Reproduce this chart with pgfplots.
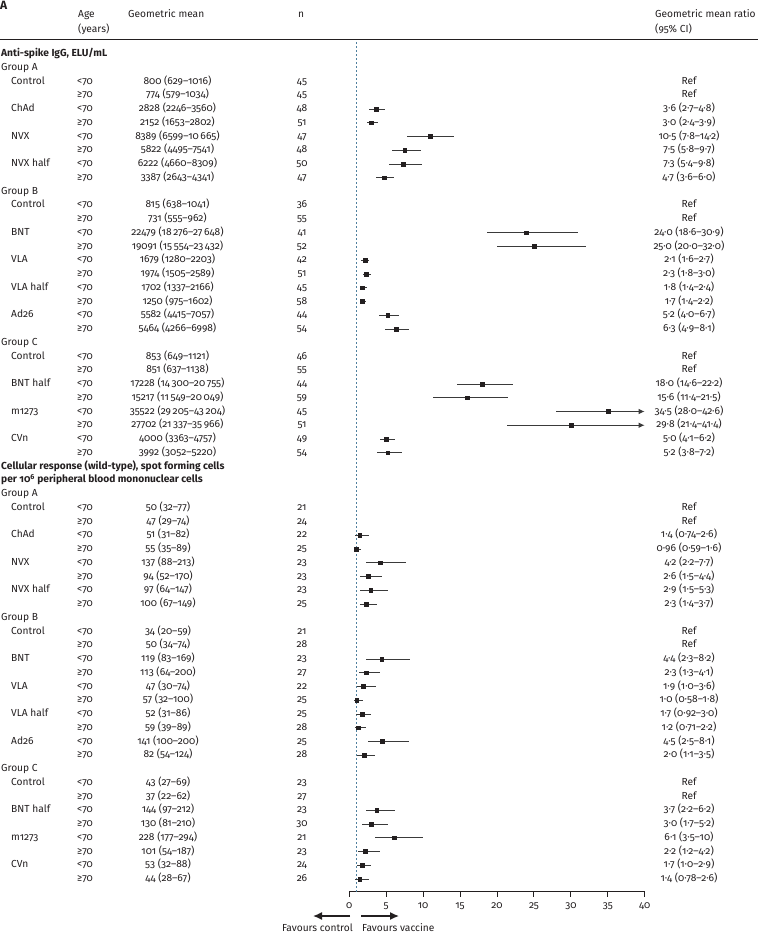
\documentclass[border=0pt]{standalone}
\usepackage{fontspec}
\setmainfont{Fira Sans}[Numbers=OldStyle]
\usepackage{pgfplots}
\usepackage{pgfplotstable}
\pgfplotsset{compat=1.18}
\usetikzlibrary{arrows.meta}

\definecolor{ink}{HTML}{231F20}
\definecolor{cigray}{HTML}{3A3A3A}
\definecolor{refline}{HTML}{4F7F9E}

% geometric mean ratio (x), row number (r), 95% CI (lo, hi)
\pgfplotstableread{
x    r  lo   hi
3.6  5  2.7  4.8
3.0  6  2.4  3.9
11.0 7  7.8  14.2
7.5  8  5.8  9.7
7.3  9  5.4  9.8
4.7  10 3.6  6.0
24.0 14 18.6 30.9
25.0 15 20.0 32.0
2.1  16 1.6  2.7
2.3  17 1.8  3.0
1.8  18 1.4  2.4
1.7  19 1.4  2.2
5.2  20 4.0  6.7
6.3  21 4.9  8.1
18.0 25 14.6 22.2
16.0 26 11.4 21.5
5.0  29 4.1  6.2
5.2  30 3.8  7.2
}\antispike

\pgfplotstableread{
x    r  lo   hi
1.4  36 0.74 2.6
0.96 37 0.59 1.6
4.2  38 2.2  7.7
2.6  39 1.5  4.4
2.9  40 1.5  5.3
2.3  41 1.4  3.7
4.4  45 2.3  8.2
2.3  46 1.3  4.1
1.9  47 1.0  3.6
1.0  48 0.58 1.8
1.7  49 0.92 3.0
1.2  50 0.71 2.2
4.5  51 2.5  8.1
2.0  52 1.1  3.5
3.7  56 2.2  6.2
3.0  57 1.7  5.2
6.1  58 3.5  10
2.2  59 1.2  4.2
1.7  60 1.0  2.9
1.4  61 0.78 2.6
}\cellular

\newcommand\ry[1]{40.25+13.75*#1}
% row number, vaccine, age, geometric mean, n, ratio
\newcommand\trow[6]{%
  \node[anchor=mid west] at (11,{\ry{#1}}) {#2};
  \node[anchor=mid west] at (77,{\ry{#1}}) {#3};
  \node[anchor=mid] at (\meanx,{\ry{#1}}) {#4};
  \node[anchor=mid] at (302,{\ry{#1}}) {#5};
  \node[anchor=mid] at (689,{\ry{#1}}) {#6};}
\newcommand\grow[2]{\node[anchor=mid west] at (1,{\ry{#1}}) {#2};}
\newcommand\brow[2]{\node[anchor=mid west] at (1,{\ry{#1}}) {\bfseries #2};}

\begin{document}
\fontsize{10.2}{12}\selectfont
\begin{tikzpicture}
\useasboundingbox (0,0) rectangle (758pt,-934pt);
\begin{axis}[
    at={(349.3pt,-891.7pt)}, anchor=south west,
    scale only axis, width=295.4pt, height=850.7pt,
    xmin=0, xmax=40, ymin=-61.924, ymax=-0.0545,
    axis x line=bottom, axis y line=none,
    axis line style={-},
    x axis line style={-, line width=1.1pt, draw=ink},
    xtick={0,5,...,40}, ytick=\empty,
    tick align=outside, major tick length=5pt,
    every tick/.style={line width=1pt, draw=ink},
    xticklabel style={text=ink, anchor=north, yshift=-2pt},
    /pgf/number format/assume math mode=true,
    clip=false,
]
\addplot[refline, line width=0.8pt, dash pattern=on 2pt off 2pt] coordinates {(1,-61.924) (1,-0.0545)};

\addplot[only marks, mark=square*, mark size=1.9pt, ink,
    error bars/.cd, x dir=both, x explicit, error mark=none,
    error bar style={line width=1pt, cigray}]
    table[x=x, y expr=-\thisrow{r},
          x error plus expr=\thisrow{hi}-\thisrow{x},
          x error minus expr=\thisrow{x}-\thisrow{lo}] {\antispike};
\addplot[only marks, mark=square*, mark size=1.9pt, ink,
    error bars/.cd, x dir=both, x explicit, error mark=none,
    error bar style={line width=1pt, cigray}]
    table[x=x, y expr=-\thisrow{r},
          x error plus expr=\thisrow{hi}-\thisrow{x},
          x error minus expr=\thisrow{x}-\thisrow{lo}] {\cellular};

% m1273: upper limits beyond the axis
\addplot[cigray, line width=1pt, -{Latex[length=6pt,width=5.5pt]}] coordinates {(28.0,-27) (40,-27)};
\addplot[cigray, line width=1pt, -{Latex[length=6pt,width=5.5pt]}] coordinates {(21.4,-28) (40,-28)};
\addplot[only marks, mark=square*, mark size=1.9pt, ink] coordinates {(35.1,-27) (30.0,-28)};
\end{axis}

\begin{scope}[x=1pt, y=-1pt, every node/.style={inner sep=0pt, text=ink}]
\node[anchor=north west] at (0,1) {\fontsize{12}{14}\selectfont\bfseries A};
\node[anchor=mid west] at (78,15) {Age};
\node[anchor=mid west] at (78,30) {(years)};
\node[anchor=mid west] at (128,15) {Geometric mean};
\node[anchor=mid] at (301,15) {n};
\node[anchor=mid west] at (655,15) {Geometric mean ratio};
\node[anchor=mid west] at (655,30) {(95\% CI)};
\draw[ink, line width=1.2pt] (0,39.5) -- (758,39.5);

\def\meanx{177.5}
\brow{1}{Anti-spike IgG, ELU/mL}
\grow{2}{Group A}
\trow{3}{Control}{<70}{800 (629–1016)}{45}{Ref}
\trow{4}{}{≥70}{774 (579–1034)}{45}{Ref}
\trow{5}{ChAd}{<70}{2828 (2246–3560)}{48}{3·6 (2·7–4·8)}
\trow{6}{}{≥70}{2152 (1653–2802)}{51}{3·0 (2·4–3·9)}
\trow{7}{NVX}{<70}{8389 (6599–10\,665)}{47}{10·5 (7·8–14·2)}
\trow{8}{}{≥70}{5822 (4495–7541)}{48}{7·5 (5·8–9·7)}
\trow{9}{NVX half}{<70}{6222 (4660–8309)}{50}{7·3 (5·4–9·8)}
\trow{10}{}{≥70}{3387 (2643–4341)}{47}{4·7 (3·6–6·0)}
\grow{11}{Group B}
\trow{12}{Control}{<70}{815 (638–1041)}{36}{Ref}
\trow{13}{}{≥70}{731 (555–962)}{55}{Ref}
\trow{14}{BNT}{<70}{22479 (18\,276–27\,648)}{41}{24·0 (18·6–30·9)}
\trow{15}{}{≥70}{19091 (15\,554–23\,432)}{52}{25·0 (20·0–32·0)}
\trow{16}{VLA}{<70}{1679 (1280–2203)}{42}{2·1 (1·6–2·7)}
\trow{17}{}{≥70}{1974 (1505–2589)}{51}{2·3 (1·8–3·0)}
\trow{18}{VLA half}{<70}{1702 (1337–2166)}{45}{1·8 (1·4–2·4)}
\trow{19}{}{≥70}{1250 (975–1602)}{58}{1·7 (1·4–2·2)}
\trow{20}{Ad26}{<70}{5582 (4415–7057)}{44}{5·2 (4·0–6·7)}
\trow{21}{}{≥70}{5464 (4266–6998)}{54}{6·3 (4·9–8·1)}
\grow{22}{Group C}
\trow{23}{Control}{<70}{853 (649–1121)}{46}{Ref}
\trow{24}{}{≥70}{851 (637–1138)}{55}{Ref}
\trow{25}{BNT half}{<70}{17228 (14\,300–20\,755)}{44}{18·0 (14·6–22·2)}
\trow{26}{}{≥70}{15217 (11\,549–20\,049)}{59}{15·6 (11·4–21·5)}
\trow{27}{m1273}{<70}{35522 (29\,205–43\,204)}{45}{34·5 (28·0–42·6)}
\trow{28}{}{≥70}{27702 (21\,337–35\,966)}{51}{29·8 (21·4–41·4)}
\trow{29}{CVn}{<70}{4000 (3363–4757)}{49}{5·0 (4·1–6·2)}
\trow{30}{}{≥70}{3992 (3052–5220)}{54}{5·2 (3·8–7·2)}

\def\meanx{168}
\brow{31}{Cellular response (wild-type), spot forming cells}
\brow{32}{per 10\textsuperscript{6} peripheral blood mononuclear cells}
\grow{33}{Group A}
\trow{34}{Control}{<70}{50 (32–77)}{21}{Ref}
\trow{35}{}{≥70}{47 (29–74)}{24}{Ref}
\trow{36}{ChAd}{<70}{51 (31–82)}{22}{1·4 (0·74–2·6)}
\trow{37}{}{≥70}{55 (35–89)}{25}{0·96 (0·59–1·6)}
\trow{38}{NVX}{<70}{137 (88–213)}{23}{4·2 (2·2–7·7)}
\trow{39}{}{≥70}{94 (52–170)}{23}{2·6 (1·5–4·4)}
\trow{40}{NVX half}{<70}{97 (64–147)}{23}{2·9 (1·5–5·3)}
\trow{41}{}{≥70}{100 (67–149)}{25}{2·3 (1·4–3·7)}
\grow{42}{Group B}
\trow{43}{Control}{<70}{34 (20–59)}{21}{Ref}
\trow{44}{}{≥70}{50 (34–74)}{28}{Ref}
\trow{45}{BNT}{<70}{119 (83–169)}{23}{4·4 (2·3–8·2)}
\trow{46}{}{≥70}{113 (64–200)}{27}{2·3 (1·3–4·1)}
\trow{47}{VLA}{<70}{47 (30–74)}{22}{1·9 (1·0–3·6)}
\trow{48}{}{≥70}{57 (32–100)}{25}{1·0 (0·58–1·8)}
\trow{49}{VLA half}{<70}{52 (31–86)}{25}{1·7 (0·92–3·0)}
\trow{50}{}{≥70}{59 (39–89)}{28}{1·2 (0·71–2·2)}
\trow{51}{Ad26}{<70}{141 (100–200)}{25}{4·5 (2·5–8·1)}
\trow{52}{}{≥70}{82 (54–124)}{28}{2·0 (1·1–3·5)}
\grow{53}{Group C}
\trow{54}{Control}{<70}{43 (27–69)}{23}{Ref}
\trow{55}{}{≥70}{37 (22–62)}{27}{Ref}
\trow{56}{BNT half}{<70}{144 (97–212)}{23}{3·7 (2·2–6·2)}
\trow{57}{}{≥70}{130 (81–210)}{30}{3·0 (1·7–5·2)}
\trow{58}{m1273}{<70}{228 (177–294)}{21}{6·1 (3·5–10)}
\trow{59}{}{≥70}{101 (54–187)}{23}{2·2 (1·2–4·2)}
\trow{60}{CVn}{<70}{53 (32–88)}{24}{1·7 (1·0–2·9)}
\trow{61}{}{≥70}{44 (28–67)}{26}{1·4 (0·78–2·6)}

\draw[ink, line width=1.4pt, -{Latex[length=9pt,width=8pt]}] (350,916) -- (313,916);
\draw[ink, line width=1.4pt, -{Latex[length=9pt,width=8pt]}] (361,916) -- (399,916);
\node[anchor=mid east] at (353,929) {Favours control};
\node[anchor=mid west] at (362,929) {Favours vaccine};
\end{scope}
\end{tikzpicture}
\end{document}
